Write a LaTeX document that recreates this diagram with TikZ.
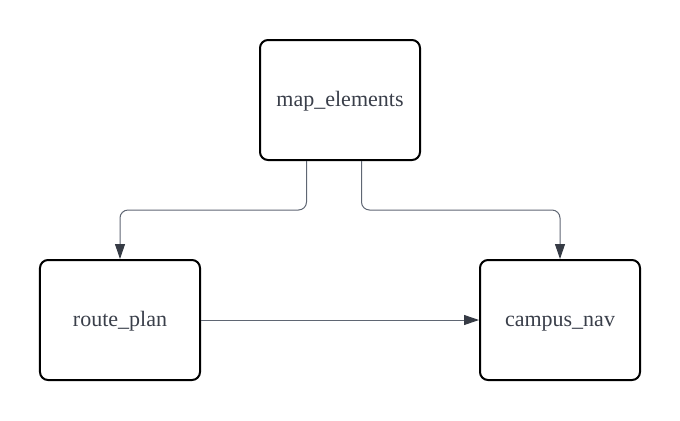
\documentclass[tikz,border=0pt]{standalone}
\usepackage{fontspec}
\setmainfont{Liberation Serif}
\usetikzlibrary{arrows.meta}
\definecolor{txt}{HTML}{3A3F4A}
\definecolor{conn}{HTML}{5F6673}
\definecolor{tip}{HTML}{363B45}
\tikzset{
  box/.style={draw=black, line width=2bp, rounded corners=8bp, minimum width=160bp, minimum height=120bp, inner sep=0pt, text height=17bp, text depth=5bp, text=txt, font=\fontsize{22bp}{26bp}\selectfont},
  link/.style={draw=conn, line width=1bp, rounded corners=8bp, -{Triangle[length=15bp,width=10bp,fill=tip,color=tip]}},
}
\begin{document}
\begin{tikzpicture}[x=1bp,y=-1bp]
\useasboundingbox (0,0) rectangle (680,420);
\node[box] (me) at (340,100) {map\_elements};
\node[box] (rp) at (120,320) {route\_plan};
\node[box] (cn) at (560,320) {campus\_nav};
\coordinate (lane) at (0,210);
\coordinate (ls) at ([xshift=-33.5bp]me.south);
\coordinate (rs) at ([xshift=21.5bp]me.south);
\draw[link] (ls) |- (lane -| rp.north) -- (rp.north);
\draw[link] (rs) |- (lane -| cn.north) -- (cn.north);
\draw[link] (rp.east) -- (cn.west);
\end{tikzpicture}
\end{document}
